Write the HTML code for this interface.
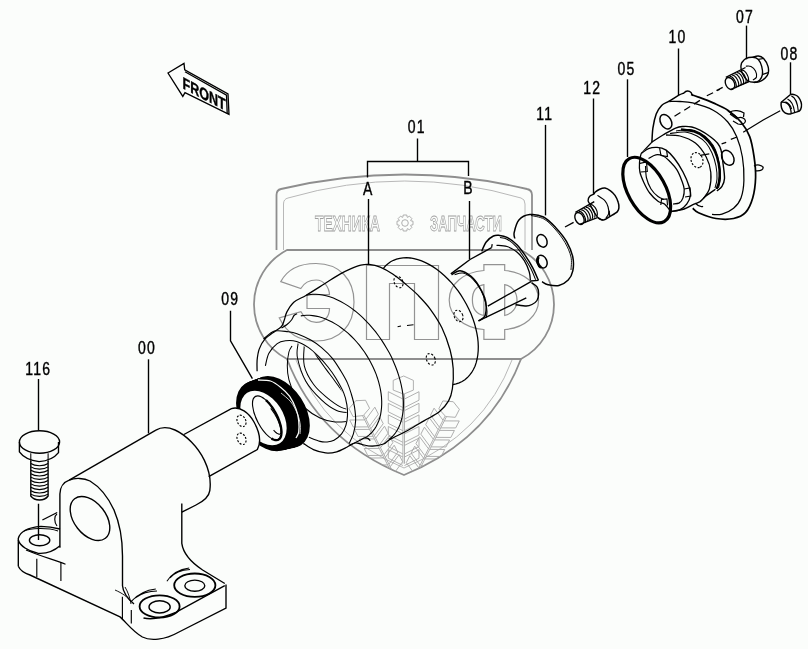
<!DOCTYPE html>
<html><head><meta charset="utf-8">
<style>
html,body{margin:0;padding:0;background:#fbfdfb;width:808px;height:649px;overflow:hidden}
svg{display:block;will-change:transform}
text{font-family:"Liberation Sans",sans-serif}
</style></head>
<body>
<svg width="808" height="649" viewBox="0 0 808 649">
<rect width="808" height="649" fill="#fbfdfb"/>
<!-- WATERMARK -->
<g id="wm" fill="none" stroke="#939393" stroke-width="1.2">
  <path d="M276.5,250 V195 Q276.5,190 281,189 Q405,160 527,189 Q532,190 532,195 V250" stroke="#8e8e8e" stroke-width="1.8"/>
  <path d="M283.5,250 V204 Q283.5,199 288,198 Q405,164 521,198 Q525,199 525,204 V250" stroke="#b8b8b8" stroke-width="1"/>
  <path d="M287,250 H521 A61.5,61.5 0 0 1 521,359 H287 A61.5,61.5 0 0 1 287,250 Z" stroke="#8e8e8e" stroke-width="1.8"/>
  <path d="M287,359 Q318,440 404,475 Q490,440 521,359" stroke="#8e8e8e" stroke-width="1.8"/>
  <path d="M296,360 Q324,434 404,468 Q484,434 512,360" stroke="#b8b8b8" stroke-width="1"/>
  <path d="M280.8,281.6 C288,268 302,263.5 316,263.5 C340,263.5 354,280 354,302 C354,325 340,341 316,341 C300,341 287,334 279.2,317.8 L300.8,311.6 C304,318 310,322.4 316.2,322.4 C325,322.4 329.5,316 329.5,308.5 L307,308.5 L307,294.7 L329.5,294.7 C329,287 324,280 316.2,280 C310,280 304,283 300.8,288.5 Z"/>
  <path d="M366.5,265.5 H438.5 V339.5 H414.5 V283.5 H389.5 V339.5 H366.5 Z"/>
  <path d="M483.9,264.6 H504.7 V270.5 C524,272 538.6,284 538.6,300 C538.6,316 524,328 504.7,329.5 V339.4 H483.9 V329.5 C464,328 449.2,316 449.2,300 C449.2,284 464,272 483.9,270.5 Z"/>
  <path d="M483.9,284.7 C476,286 472.4,292 472.4,300 C472.4,308 476,314 483.9,315.5 Z M504.7,284.7 C512,286 517,292 517,300 C517,308 512,314 504.7,315.5 Z"/>
  <g stroke-width="0.85" stroke="#a0a0a0">
    <text x="315" y="231" font-size="22.5" font-weight="bold" textLength="65" lengthAdjust="spacingAndGlyphs">ТЕХНИКА</text>
    <text x="430" y="231" font-size="22.5" font-weight="bold" textLength="72" lengthAdjust="spacingAndGlyphs">ЗАПЧАСТИ</text>
    <circle cx="405" cy="223" r="3.3"/>
    <path d="M413.0,221.2 L413.0,224.8 L410.8,225.2 L410.6,225.6 L411.9,227.4 L409.4,229.9 L407.6,228.6 L407.2,228.8 L406.8,231.0 L403.2,231.0 L402.8,228.8 L402.4,228.6 L400.6,229.9 L398.1,227.4 L399.4,225.6 L399.2,225.2 L397.0,224.8 L397.0,221.2 L399.2,220.8 L399.4,220.4 L398.1,218.6 L400.6,216.1 L402.4,217.4 L402.8,217.2 L403.2,215.0 L406.8,215.0 L407.2,217.2 L407.6,217.4 L409.4,216.1 L411.9,218.6 L410.6,220.4 L410.8,220.8 Z"/>
  </g>
</g>

<defs><clipPath id="shc"><path d="M287,359 Q318,440 404,475 Q490,440 521,359 Z"/></clipPath></defs><g clip-path="url(#shc)"><g transform="translate(403.7,391) rotate(0) scale(1.0)" fill="none" stroke="#a8a8a8" stroke-width="0.9">
<path d="M-10.5,-10.6 L0,-15 L9.7,-10.6 V-0.9 L0,3.1 L-10.5,-0.9 Z"/>
<path d="M-0.8,3 V72.7 M0.8,3 V72.7"/>
<path d="M-15.4,0.7 L-0.8,8.0 M-15.4,9.2 L-0.8,16.5 M-15.4,0.7 V9.2"/>
<path d="M15.3,0.7 L0.8,8.0 M15.3,9.2 L0.8,16.5 M15.3,0.7 V9.2"/>
<path d="M-15.4,12.3 L-0.8,19.6 M-15.4,20.8 L-0.8,28.1 M-15.4,12.3 V20.8"/>
<path d="M15.3,12.3 L0.8,19.6 M15.3,20.8 L0.8,28.1 M15.3,12.3 V20.8"/>
<path d="M-15.4,23.9 L-0.8,31.2 M-15.4,32.4 L-0.8,39.7 M-15.4,23.9 V32.4"/>
<path d="M15.3,23.9 L0.8,31.2 M15.3,32.4 L0.8,39.7 M15.3,23.9 V32.4"/>
<path d="M-15.4,35.5 L-0.8,42.8 M-15.4,44.0 L-0.8,51.3 M-15.4,35.5 V44.0"/>
<path d="M15.3,35.5 L0.8,42.8 M15.3,44.0 L0.8,51.3 M15.3,35.5 V44.0"/>
<path d="M-15.4,47.1 L-0.8,54.4 M-15.4,55.6 L-0.8,62.9 M-15.4,47.1 V55.6"/>
<path d="M15.3,47.1 L0.8,54.4 M15.3,55.6 L0.8,62.9 M15.3,47.1 V55.6"/>
<path d="M-15.4,58.7 L-0.8,66.0 M-15.4,67.2 L-0.8,74.5 M-15.4,58.7 V67.2"/>
<path d="M15.3,58.7 L0.8,66.0 M15.3,67.2 L0.8,74.5 M15.3,58.7 V67.2"/>
</g><g transform="translate(362,413) rotate(-27) scale(0.92)" fill="none" stroke="#a8a8a8" stroke-width="0.9">
<path d="M-10.5,-10.6 L0,-15 L9.7,-10.6 V-0.9 L0,3.1 L-10.5,-0.9 Z"/>
<path d="M-0.8,3 V72.7 M0.8,3 V72.7"/>
<path d="M-15.4,0.7 L-0.8,8.0 M-15.4,9.2 L-0.8,16.5 M-15.4,0.7 V9.2"/>
<path d="M15.3,0.7 L0.8,8.0 M15.3,9.2 L0.8,16.5 M15.3,0.7 V9.2"/>
<path d="M-15.4,12.3 L-0.8,19.6 M-15.4,20.8 L-0.8,28.1 M-15.4,12.3 V20.8"/>
<path d="M15.3,12.3 L0.8,19.6 M15.3,20.8 L0.8,28.1 M15.3,12.3 V20.8"/>
<path d="M-15.4,23.9 L-0.8,31.2 M-15.4,32.4 L-0.8,39.7 M-15.4,23.9 V32.4"/>
<path d="M15.3,23.9 L0.8,31.2 M15.3,32.4 L0.8,39.7 M15.3,23.9 V32.4"/>
<path d="M-15.4,35.5 L-0.8,42.8 M-15.4,44.0 L-0.8,51.3 M-15.4,35.5 V44.0"/>
<path d="M15.3,35.5 L0.8,42.8 M15.3,44.0 L0.8,51.3 M15.3,35.5 V44.0"/>
<path d="M-15.4,47.1 L-0.8,54.4 M-15.4,55.6 L-0.8,62.9 M-15.4,47.1 V55.6"/>
<path d="M15.3,47.1 L0.8,54.4 M15.3,55.6 L0.8,62.9 M15.3,47.1 V55.6"/>
<path d="M-15.4,58.7 L-0.8,66.0 M-15.4,67.2 L-0.8,74.5 M-15.4,58.7 V67.2"/>
<path d="M15.3,58.7 L0.8,66.0 M15.3,67.2 L0.8,74.5 M15.3,58.7 V67.2"/>
</g><g transform="translate(447,414) rotate(27) scale(0.92)" fill="none" stroke="#a8a8a8" stroke-width="0.9">
<path d="M-10.5,-10.6 L0,-15 L9.7,-10.6 V-0.9 L0,3.1 L-10.5,-0.9 Z"/>
<path d="M-0.8,3 V72.7 M0.8,3 V72.7"/>
<path d="M-15.4,0.7 L-0.8,8.0 M-15.4,9.2 L-0.8,16.5 M-15.4,0.7 V9.2"/>
<path d="M15.3,0.7 L0.8,8.0 M15.3,9.2 L0.8,16.5 M15.3,0.7 V9.2"/>
<path d="M-15.4,12.3 L-0.8,19.6 M-15.4,20.8 L-0.8,28.1 M-15.4,12.3 V20.8"/>
<path d="M15.3,12.3 L0.8,19.6 M15.3,20.8 L0.8,28.1 M15.3,12.3 V20.8"/>
<path d="M-15.4,23.9 L-0.8,31.2 M-15.4,32.4 L-0.8,39.7 M-15.4,23.9 V32.4"/>
<path d="M15.3,23.9 L0.8,31.2 M15.3,32.4 L0.8,39.7 M15.3,23.9 V32.4"/>
<path d="M-15.4,35.5 L-0.8,42.8 M-15.4,44.0 L-0.8,51.3 M-15.4,35.5 V44.0"/>
<path d="M15.3,35.5 L0.8,42.8 M15.3,44.0 L0.8,51.3 M15.3,35.5 V44.0"/>
<path d="M-15.4,47.1 L-0.8,54.4 M-15.4,55.6 L-0.8,62.9 M-15.4,47.1 V55.6"/>
<path d="M15.3,47.1 L0.8,54.4 M15.3,55.6 L0.8,62.9 M15.3,47.1 V55.6"/>
<path d="M-15.4,58.7 L-0.8,66.0 M-15.4,67.2 L-0.8,74.5 M-15.4,58.7 V67.2"/>
<path d="M15.3,58.7 L0.8,66.0 M15.3,67.2 L0.8,74.5 M15.3,58.7 V67.2"/>
</g></g>
<g fill="none" stroke="#000" stroke-width="1.15">
<path d="M257.1,371.3 C257.1,369.4 256.8,363.9 257.1,360.2 C257.5,356.5 257.9,352.6 259.2,349.1 C260.5,345.6 262.1,342.3 264.7,339.4 C267.3,336.4 271.9,333.5 274.7,331.4 C277.5,329.2 279.9,328.4 281.5,326.5 C283.1,324.6 283.4,322.4 284.3,320.0 C285.2,317.6 285.3,314.9 286.9,311.9 C288.5,308.9 290.6,305.0 293.8,302.2 C297.0,299.4 301.1,298.3 306.3,295.2 C311.5,292.1 319.4,287.0 325.0,283.5 C330.6,280.0 335.6,276.6 340.0,274.1 C344.4,271.6 347.6,270.1 351.1,268.6 C354.6,267.1 357.8,265.8 360.8,265.1 C363.8,264.4 365.9,264.0 369.1,264.4 C372.3,264.8 376.3,265.6 380.2,267.2 C384.1,268.8 388.5,271.3 392.7,274.1 C396.9,276.9 401.0,280.3 405.2,283.8 C409.4,287.3 413.6,290.7 417.7,294.9 C421.8,299.1 426.0,303.3 430.0,308.8 C434.0,314.3 438.5,320.8 441.9,327.7 C445.2,334.6 448.2,343.2 450.1,350.0 C452.0,356.8 452.8,362.1 453.2,368.5 C453.6,374.9 453.2,383.2 452.4,388.6 C451.6,394.0 450.8,397.0 448.6,400.9 C446.4,404.8 443.4,408.4 439.3,411.7 C435.2,415.0 429.0,417.8 423.9,420.9 C418.8,423.9 414.1,426.9 408.5,430.0 C402.9,433.1 394.2,437.2 390.0,439.5 C385.8,441.8 386.4,442.9 383.5,444.0 C380.6,445.1 375.9,446.1 372.4,446.2 C368.9,446.3 365.2,445.2 362.4,444.6 C359.6,444.1 357.9,442.7 355.7,442.9 C353.5,443.1 350.1,445.2 349.0,445.7" stroke-width="1.26" />
<path d="M297.0,313.8 C296.5,314.1 294.9,314.5 294.0,315.5 C293.1,316.5 292.7,318.5 291.5,320.0 C290.3,321.5 288.7,323.2 287.0,324.5 C285.3,325.8 282.4,327.4 281.5,328.0" stroke-width="1.15" />
<path d="M303.3,443.4 C305.0,444.4 309.7,448.0 313.4,449.6 C317.1,451.2 321.7,452.5 325.6,452.9 C329.5,453.3 333.2,452.7 336.7,451.8 C340.2,450.9 344.2,448.6 346.8,447.3 C349.4,446.0 350.3,445.1 352.3,444.0 C354.3,442.9 356.9,441.7 359.0,440.7 C361.1,439.7 363.1,438.3 364.6,437.9 C366.1,437.5 367.0,437.9 367.9,438.4 C368.8,438.9 369.8,440.3 370.2,440.7" stroke-width="1.26" />
<path d="M383.4,268.3 L385.6,265.8 L388.0,263.7 L390.6,261.8 L393.5,260.3 L396.5,259.1 L399.8,258.3 L403.1,257.8 L406.6,257.7 L410.3,258.0 L414.0,258.6 L417.8,259.6 L421.6,260.9 L425.5,262.6 L429.4,264.6 L433.2,266.9 L437.0,269.6 L440.8,272.5 L444.5,275.7 L448.1,279.2 L451.6,282.9 L454.9,286.8 L458.1,290.9 L461.0,295.2 L463.8,299.7 L466.4,304.2 L468.8,308.9 L470.9,313.6 L472.8,318.4 L474.4,323.2 L475.7,328.0 L476.8,332.8 L477.6,337.4 L478.1,342.0 L478.3,346.5 L478.2,350.8 L477.8,355.0 L477.1,359.0 L476.2,362.7 L475.0,366.3 L473.4,369.5 L471.7,372.5 L469.6,375.2 L467.4,377.6 L464.9,379.7 L462.1,381.5 L459.2,382.9 L456.1,383.9 L452.9,384.7" stroke-width="1.26" />
<path d="M306.3,295.3 L309.4,294.7 L312.5,294.3 L315.8,294.3 L319.2,294.5 L322.6,295.0 L326.1,295.8 L329.7,296.8 L333.4,298.1 L337.0,299.7 L340.7,301.5 L344.4,303.6 L348.1,305.9 L351.7,308.4 L355.4,311.2 L358.9,314.2 L362.5,317.4 L365.9,320.8 L369.3,324.3 L372.5,328.1 L375.7,331.9 L378.7,336.0 L381.6,340.1 L384.3,344.4 L386.9,348.7 L389.4,353.1 L391.7,357.6 L393.7,362.2 L395.6,366.7 L397.3,371.3 L398.8,375.9 L400.1,380.4 L401.2,384.9 L402.1,389.4 L402.8,393.7 L403.2,398.0 L403.4,402.2 L403.4,406.3 L403.2,410.2 L402.7,414.0 L402.0,417.7 L401.1,421.1 L400.0,424.4 L398.7,427.5 L397.2,430.3 L395.4,433.0 L393.5,435.4 L391.4,437.5 L389.1,439.5" stroke-width="1.09" />
<path d="M300.8,315.9 L303.6,315.5 L306.6,315.3 L309.6,315.3 L312.7,315.6 L315.9,316.1 L319.1,316.8 L322.3,317.8 L325.6,319.0 L328.8,320.4 L332.1,322.0 L335.3,323.9 L338.6,325.9 L341.8,328.2 L344.9,330.6 L348.0,333.2 L351.0,336.0 L353.9,338.9 L356.7,342.0 L359.4,345.2 L362.0,348.6 L364.5,352.0 L366.8,355.6 L369.0,359.2 L371.0,362.9 L372.9,366.7 L374.6,370.5 L376.2,374.4 L377.5,378.2 L378.7,382.1 L379.7,386.0 L380.5,389.8 L381.1,393.6 L381.5,397.3 L381.7,400.9 L381.7,404.5 L381.5,408.0 L381.1,411.4 L380.6,414.6 L379.8,417.7 L378.8,420.7 L377.6,423.5 L376.3,426.2 L374.8,428.6 L373.1,430.9 L371.2,433.0 L369.2,434.9 L367.0,436.6 L364.7,438.1" stroke-width="1.09" />
<path d="M263.5,339.0 C265.3,337.7 270.3,332.3 274.4,331.1 C278.5,329.9 284.5,331.4 288.3,331.8 C292.1,332.2 293.2,332.3 297.0,333.7 C300.8,335.1 306.7,337.7 310.8,340.0 C314.9,342.3 318.0,344.6 321.6,347.6 C325.2,350.7 329.2,354.4 332.4,358.3 C335.6,362.2 338.5,367.2 341.0,371.3 C343.5,375.4 345.8,379.3 347.5,383.1 C349.2,386.9 350.1,390.0 351.3,394.0 C352.5,398.0 353.8,402.4 354.5,406.9 C355.2,411.4 355.8,416.5 355.6,421.0 C355.4,425.5 354.5,430.1 353.4,433.9 C352.3,437.7 349.8,442.0 349.1,443.6" stroke-width="1.09" />
<path d="M265.4,365.8 C266.0,363.7 266.9,357.0 268.9,353.3 C270.9,349.6 274.4,345.7 277.2,343.6 C280.0,341.5 282.3,341.2 285.5,340.8 C288.7,340.4 292.8,340.4 296.6,341.5 C300.5,342.6 305.0,345.2 308.6,347.6 C312.2,350.1 315.1,353.0 318.3,356.2 C321.5,359.4 325.1,363.4 328.0,367.0 C330.9,370.6 333.0,373.5 335.6,377.8 C338.2,382.1 341.8,388.4 343.7,392.9 C345.6,397.4 346.3,401.0 346.9,404.8 C347.5,408.6 347.7,412.2 347.5,415.6 C347.3,419.0 346.9,422.2 345.9,425.3 C344.9,428.4 343.6,431.4 341.6,433.9 C339.6,436.4 336.5,438.9 334.0,440.3 C331.5,441.7 328.8,441.8 326.5,442.0 C324.2,442.2 322.9,442.2 320.0,441.4 C317.1,440.6 310.8,438.0 308.9,437.3" stroke-width="1.09" />
<defs><clipPath id="bore"><ellipse cx="306.5" cy="391.4" rx="31.6" ry="55.8" transform="rotate(-32.8 306.5 391.4)"/></clipPath></defs>
<g clip-path="url(#bore)">
<path d="M292.0,346.0 C291.5,347.0 289.7,348.7 288.9,352.0 C288.1,355.3 287.3,361.2 287.3,365.8 C287.3,370.4 287.6,374.8 288.9,379.7 C290.2,384.6 292.3,390.3 295.0,395.0 C297.7,399.7 300.8,404.2 305.0,408.0 C309.2,411.8 315.0,415.7 320.0,418.0 C325.0,420.3 329.7,421.5 335.0,422.0 C340.3,422.5 349.2,421.2 352.0,421.0" stroke-width="1.03" />
<path d="M300.0,338.0 C299.7,339.0 298.4,340.9 298.0,344.2 C297.6,347.5 296.2,351.8 297.5,358.0 C298.8,364.2 301.9,374.2 305.8,381.2 C309.8,388.1 316.1,394.8 321.2,399.7 C326.3,404.6 331.5,408.3 336.6,410.5 C341.7,412.7 349.4,412.6 352.0,413.0" stroke-width="1.03" />
<path d="M306.0,338.0 C305.7,339.3 304.6,341.2 304.3,345.8 C304.0,350.4 302.8,359.4 304.3,365.8 C305.8,372.2 309.9,379.2 313.5,384.3 C317.1,389.4 321.2,392.8 325.8,396.6 C330.4,400.5 336.9,405.2 341.3,407.4 C345.7,409.6 350.2,409.6 352.0,410.0" stroke-width="1.03" />
<path d="M314.0,352.0 C314.7,353.0 316.1,355.3 318.1,358.1 C320.1,360.9 323.0,365.0 325.8,368.9 C328.6,372.8 332.2,377.3 335.0,381.2 C337.8,385.1 340.6,389.2 342.8,392.0 C345.0,394.8 347.1,397.0 348.0,398.0" stroke-width="1.03" />
<path d="M317.0,350.0 C317.7,351.1 318.9,353.5 321.2,356.6 C323.4,359.8 327.4,364.5 330.5,368.9 C333.6,373.3 337.1,378.7 339.7,382.8 C342.3,386.9 344.2,390.8 345.9,393.5 C347.6,396.2 349.3,398.1 350.0,399.0" stroke-width="1.03" />
</g>
<ellipse cx="398.5" cy="282" rx="4.2" ry="6" transform="rotate(-25 398.5 282)" stroke-dasharray="2.2 1.6" stroke-width="1.09"/>
<ellipse cx="458.5" cy="315.9" rx="4.2" ry="6" transform="rotate(-25 458.5 315.9)" stroke-dasharray="2.2 1.6" stroke-width="1.09"/>
<ellipse cx="430.8" cy="359.3" rx="4.2" ry="6" transform="rotate(-25 430.8 359.3)" stroke-dasharray="2.2 1.6" stroke-width="1.09"/>
<path d="M397.6,326.8 L401,326 M407,325.5 L413.5,324.7" stroke-width="1.15"/>
</g>
<g>
<ellipse cx="266.0" cy="416.0" rx="38.5" ry="25.5" transform="rotate(57 266.0 416.0)" fill="#000"/>
<ellipse cx="267.69" cy="415.5" rx="38.62" ry="25.5" transform="rotate(57 267.69 415.5)" fill="#000"/>
<ellipse cx="269.38" cy="415.0" rx="38.75" ry="25.5" transform="rotate(57 269.38 415.0)" fill="#000"/>
<ellipse cx="271.06" cy="414.5" rx="38.88" ry="25.5" transform="rotate(57 271.06 414.5)" fill="#000"/>
<ellipse cx="272.75" cy="414.0" rx="39.0" ry="25.5" transform="rotate(57 272.75 414.0)" fill="#000"/>
<ellipse cx="274.44" cy="413.5" rx="39.12" ry="25.5" transform="rotate(57 274.44 413.5)" fill="#000"/>
<ellipse cx="276.12" cy="413.0" rx="39.25" ry="25.5" transform="rotate(57 276.12 413.0)" fill="#000"/>
<ellipse cx="277.81" cy="412.5" rx="39.38" ry="25.5" transform="rotate(57 277.81 412.5)" fill="#000"/>
<ellipse cx="279.5" cy="412.0" rx="39.5" ry="25.5" transform="rotate(57 279.5 412.0)" fill="#000"/>
<path d="M258.0,380.0 C260.1,380.2 266.7,379.8 270.5,381.0 C274.3,382.2 277.6,384.8 280.8,387.4 C284.0,389.9 287.1,392.7 289.7,396.3 C292.2,399.9 294.6,405.1 296.1,409.1 C297.6,413.2 298.3,416.8 298.7,420.6 C299.1,424.4 299.1,429.2 298.7,432.1 C298.2,435.0 296.4,437.0 296.0,438.0" fill="none" stroke="#fbfdfb" stroke-width="1.26"/>
<path d="M281.0,393.0 C282.7,394.5 288.2,398.5 291.0,402.0 C293.8,405.5 295.9,410.2 297.5,414.0 C299.1,417.8 299.9,421.7 300.3,425.0 C300.7,428.3 300.1,432.5 300.0,434.0" fill="none" stroke="#fbfdfb" stroke-width="0.80"/>
<ellipse cx="263.5" cy="418" rx="30" ry="19.6" transform="rotate(57 263.5 418)" fill="#fbfdfb"/>
<path d="M265.9,400.1 L267.0,401.1 L268.0,402.2 L269.1,403.3 L270.1,404.6 L271.1,405.9 L272.1,407.2 L273.1,408.7 L274.0,410.1 L274.9,411.7 L275.8,413.2 L276.6,414.8 L277.4,416.4 L278.1,418.0 L278.7,419.6 L279.3,421.2 L279.8,422.8 L280.3,424.3 L280.7,425.8 L281.0,427.3 L281.2,428.7 L281.4,430.1 L281.5,431.4 L281.5,432.7 L281.4,433.8 L281.3,434.9 L281.1,435.9 L280.8,436.8 L280.4,437.6 L280.0,438.3 L279.5,438.9 L278.9,439.4 L278.3,439.7 L277.6,440.0 L276.9,440.1 L276.1,440.1 L275.3,440.0 L274.4,439.8 L273.5,439.5 L272.5,439.1 L271.5,438.5" fill="none" stroke="#000" stroke-width="2.30"/>
<ellipse cx="267" cy="418" rx="24.5" ry="10" transform="rotate(62 267 418)" fill="none" stroke="#000" stroke-width="1.15"/>
<path d="M270.7,408.3 L271.4,409.2 L272.1,410.1 L272.8,411.1 L273.5,412.2 L274.2,413.2 L274.9,414.3 L275.5,415.5 L276.2,416.6 L276.8,417.8 L277.4,419.0 L277.9,420.1 L278.4,421.3 L278.9,422.4 L279.3,423.6 L279.7,424.7 L280.0,425.8 L280.3,426.8 L280.6,427.8 L280.8,428.7 L280.9,429.6 L281.0,430.4 L281.0,431.1 L281.0,431.8 L280.9,432.4 L280.8,432.9 L280.6,433.3 L280.4,433.7 L280.1,433.9 L279.8,434.1 L279.4,434.2 L279.0,434.2 L278.5,434.0 L278.0,433.8 L277.5,433.6 L276.9,433.2 L276.3,432.7 L275.6,432.2 L275.0,431.6 L274.3,430.9 L273.6,430.1" fill="none" stroke="#000" stroke-width="1.15"/>
</g>
<g fill="none" stroke="#000" stroke-width="1.38">
<path d="M481.7,251.4 C482.4,249.9 484.1,244.8 486.0,242.2 C487.9,239.6 491.1,237.1 493.4,236.0 C495.7,234.9 497.3,235.2 499.6,235.4 C501.9,235.6 504.1,235.8 507.0,237.3 C509.9,238.9 513.8,241.6 516.9,244.7 C520.0,247.8 522.8,251.9 525.5,255.8 C528.2,259.7 530.8,264.0 532.9,268.1 C535.0,272.2 537.5,278.3 538.4,280.4" stroke-width="1.49" />
<path d="M500.0,237.6 C501.2,237.9 504.3,237.8 507.0,239.2 C509.7,240.6 513.2,243.3 516.0,246.3 C518.8,249.3 521.5,253.4 524.0,257.2 C526.5,261.0 529.3,265.4 531.2,269.2 C533.1,273.0 534.9,278.0 535.6,279.8" stroke-width="1.03" />
<path d="M496.5,245.3 C498.2,245.5 503.6,245.4 507.0,246.5 C510.4,247.6 514.0,249.6 516.9,252.0 C519.8,254.4 522.2,257.4 524.3,260.7 C526.3,264.0 528.2,268.5 529.2,271.8 C530.2,275.1 530.2,279.0 530.4,280.4" stroke-width="1.26" />
<path d="M492.2,244.2 L491.6,247.7" stroke-width="1.26"/>
<path d="M531.7,282.9 C532.6,283.6 536.1,285.3 537.2,287.2 C538.4,289.1 538.6,291.8 538.6,294.0 C538.6,296.2 538.1,298.8 537.0,300.5 C535.9,302.2 533.8,303.6 532.0,304.5 C530.2,305.4 529.0,306.0 526.3,306.0 C523.5,306.0 517.3,304.9 515.5,304.7" stroke-width="1.38" />
<path d="M530.4,281 L538.4,280.4" stroke-width="1.38"/>
<path d="M450.8,273.9 L470,259.5 L491.6,247.7" stroke-width="1.38"/>
<path d="M451.6,274.7 C453.0,274.1 456.8,270.6 460.0,270.8 C463.2,271.1 467.7,273.8 470.8,276.2 C473.9,278.6 476.2,281.8 478.5,285.4 C480.8,289.0 483.4,294.2 484.7,297.8 C486.0,301.4 486.2,303.9 486.2,307.0 C486.2,310.1 486.0,314.0 484.7,316.3 C483.4,318.6 479.5,320.1 478.5,320.9" stroke-width="1.49" />
<path d="M454.6,274.7 C456.0,274.4 460.0,272.3 463.1,273.1 C466.2,273.9 470.2,276.5 473.1,279.3 C476.1,282.1 478.7,286.1 480.8,290.0 C482.9,293.9 484.5,298.8 485.5,302.4 C486.5,306.0 486.9,309.0 487.0,311.6 C487.1,314.2 486.3,316.8 486.2,317.8" stroke-width="1.03" />
<path d="M478.5,320.9 L526.3,297.8 M487.8,306.2 L530.9,281.6" stroke-width="1.38"/>
</g>
<g fill="none" stroke="#000" stroke-width="1.38">
<path d="M514.8,238.5 C514.7,237.5 513.5,235.5 514.2,232.4 C514.9,229.3 516.3,223.0 518.9,220.0 C521.5,217.0 525.6,215.1 529.7,214.6 C533.8,214.1 539.1,214.8 543.5,217.0 C547.9,219.2 551.9,223.6 555.8,227.7 C559.6,231.8 563.8,236.7 566.6,241.6 C569.4,246.5 571.8,252.1 572.8,257.0 C573.8,261.9 573.6,267.0 572.8,270.9 C572.0,274.8 570.5,277.7 568.2,280.1 C565.9,282.5 562.2,284.7 558.9,285.5 C555.5,286.3 550.9,285.3 548.1,284.7 C545.3,284.1 543.0,282.2 542.0,281.7" stroke-width="1.49" />
<path d="M531.0,215.5 C533.2,216.1 540.0,216.8 544.0,219.0 C548.0,221.2 551.5,225.1 555.0,229.0 C558.5,232.9 562.3,237.8 565.0,242.5 C567.7,247.2 570.0,252.4 571.0,257.0 C572.0,261.6 571.0,267.8 571.0,270.0" stroke-width="0.92" />
<ellipse cx="542" cy="240.8" rx="4.8" ry="6.6" transform="rotate(-25 542 240.8)" stroke-width="1.49"/>
<ellipse cx="542" cy="261.6" rx="4.8" ry="6.6" transform="rotate(-25 542 261.6)" stroke-width="1.49"/>
<path d="M538.5,257 C536.5,261 538,266 541,267.5" stroke-width="2.53"/>
<path d="M565,227 L573.6,222.3" stroke-width="1.38"/>
</g>
<g fill="none" stroke="#000" stroke-width="1.38">
<path d="M594.3,193.9 C594.4,193.6 594.1,193.1 595.0,192.3 C595.9,191.5 598.0,189.9 599.7,189.2 C601.4,188.5 603.2,187.8 605.0,188.1 C606.8,188.4 608.8,189.6 610.5,190.8 C612.2,192.0 613.7,193.5 615.0,195.4 C616.3,197.3 617.6,200.2 618.2,202.3 C618.9,204.4 619.0,206.1 618.9,207.7 C618.8,209.2 618.8,210.2 617.4,211.6 C616.0,213.0 612.8,214.8 610.5,216.2 C608.2,217.6 605.6,219.8 603.5,220.1 C601.4,220.3 599.0,218.1 598.1,217.7" stroke-width="1.49" />
<path d="M594.3,193.9 C593.5,194.3 590.7,195.0 589.7,196.2 C588.7,197.3 588.0,199.3 588.1,200.8 C588.2,202.3 589.4,203.1 590.4,205.0 C591.4,206.9 592.6,209.8 594.0,212.0 C595.4,214.2 597.4,217.2 598.9,218.5 C600.4,219.8 602.3,219.8 603.0,220.0" stroke-width="1.38" />
<path d="M597.4,195.4 C598.7,196.3 603.2,198.9 605.0,200.8 C606.8,202.7 607.5,204.8 608.1,207.0 C608.7,209.2 609.0,212.1 608.6,213.9 C608.2,215.7 606.4,217.3 606.0,218.0" stroke-width="1.15" />
<path d="M609.3,210.8 L609.7,216.2" stroke-width="1.15"/>
<path d="M575.4,212.4 L594.3,201.6 M579.6,224.3 L597.4,217.7" stroke-width="1.38"/>
<ellipse cx="579.5" cy="218.5" rx="6.3" ry="4.2" transform="rotate(63 579.5 218.5)" stroke-width="1.38"/>
<path d="M579.0,211.5 L579.5,211.4 L580.2,211.5 L580.9,211.8 L581.6,212.3 L582.3,213.0 L583.1,213.8 L583.7,214.8 L584.3,215.9 L584.8,217.0 L585.2,218.1 L585.5,219.2 L585.6,220.2 L585.6,221.1 L585.4,221.9 L585.1,222.4 L584.7,222.8" stroke-width="1.15"/>
<path d="M581.3,210.2 L581.9,210.1 L582.5,210.1 L583.2,210.4 L583.9,211.0 L584.7,211.6 L585.4,212.5 L586.1,213.5 L586.7,214.6 L587.2,215.7 L587.6,216.8 L587.9,217.9 L588.0,218.9 L588.0,219.8 L587.8,220.5 L587.5,221.1 L587.0,221.4" stroke-width="1.15"/>
<path d="M583.7,208.9 L584.2,208.7 L584.8,208.8 L585.5,209.1 L586.3,209.6 L587.0,210.3 L587.7,211.2 L588.4,212.1 L589.0,213.2 L589.5,214.3 L589.9,215.5 L590.2,216.5 L590.3,217.6 L590.3,218.4 L590.1,219.2 L589.8,219.7 L589.4,220.1" stroke-width="1.15"/>
<path d="M586.0,207.5 L586.6,207.4 L587.2,207.5 L587.9,207.8 L588.6,208.3 L589.4,209.0 L590.1,209.8 L590.8,210.8 L591.4,211.9 L591.9,213.0 L592.3,214.1 L592.5,215.2 L592.7,216.2 L592.6,217.1 L592.5,217.8 L592.2,218.4 L591.7,218.8" stroke-width="1.15"/>
<path d="M588.4,206.2 L588.9,206.1 L589.5,206.1 L590.2,206.4 L591.0,206.9 L591.7,207.6 L592.4,208.5 L593.1,209.5 L593.7,210.5 L594.2,211.7 L594.6,212.8 L594.9,213.9 L595.0,214.9 L595.0,215.8 L594.8,216.5 L594.5,217.1 L594.1,217.4" stroke-width="1.15"/>
<path d="M590.7,204.9 L591.2,204.7 L591.9,204.8 L592.6,205.1 L593.3,205.6 L594.0,206.3 L594.8,207.1 L595.5,208.1 L596.1,209.2 L596.6,210.3 L597.0,211.4 L597.2,212.5 L597.3,213.5 L597.3,214.4 L597.2,215.2 L596.9,215.7 L596.4,216.1" stroke-width="1.15"/>
</g>
<g fill="none" stroke="#000" stroke-width="1.38">
<path d="M651.9,142.1 C652.1,139.8 652.2,132.8 652.9,128.1 C653.6,123.4 654.8,117.9 656.2,114.1 C657.7,110.3 659.5,107.7 661.6,105.5 C663.8,103.3 666.2,102.9 669.1,101.2 C672.0,99.5 676.3,96.6 678.8,95.2 C681.3,93.8 683.1,93.4 684.0,93.0" stroke-width="1.49" />
<path d="M684,93 C686,90.5 689,90.5 691,92.5 L692.8,95.8" stroke-width="1.38"/>
<path d="M691.0,94.5 C692.2,94.9 694.8,95.7 698.5,97.1 C702.2,98.5 708.3,100.7 713.2,102.9 C718.1,105.1 723.2,107.0 727.8,110.2 C732.4,113.4 737.4,117.6 741.0,122.0 C744.6,126.4 747.5,130.8 749.7,136.6 C751.9,142.4 753.1,150.2 754.1,157.0 C755.1,163.8 755.8,170.7 755.6,177.5 C755.4,184.3 754.4,192.1 752.7,198.0 C751.0,203.9 748.6,209.3 745.4,212.7 C742.2,216.1 738.5,217.5 733.6,218.5 C728.7,219.5 721.9,219.5 716.0,218.5 C710.1,217.5 702.4,214.4 698.5,212.7 C694.6,211.0 693.7,209.0 692.7,208.3" stroke-width="1.72" />
<path d="M669.3,101.5 C671.1,101.5 676.1,101.3 680.0,101.5 C683.9,101.7 687.2,101.5 692.7,102.9 C698.2,104.4 707.4,107.0 713.2,110.2 C719.1,113.4 723.9,117.6 727.8,122.0 C731.7,126.4 734.2,130.8 736.6,136.6 C739.0,142.4 741.2,149.7 742.4,157.0 C743.6,164.3 744.1,173.7 743.9,180.5 C743.7,187.3 742.7,193.4 741.0,198.0 C739.3,202.6 736.8,205.6 733.6,208.3 C730.4,211.0 725.6,213.1 722.0,214.1 C718.4,215.1 713.7,214.4 712.0,214.5" stroke-width="1.26" />
<path d="M728,111 L738,118 M730,114 L737,119 M738,118 C741,116.5 745,118 745.5,121 C745,124 742,125 738,124 L733,121" stroke-width="1.26"/>
<path d="M730,112 C734,109.5 740,110.5 744,113 L743.5,117 M754,166.2 C757,164 762,165 763.2,167.5 C763,170 760,171 756,170.8 M695.4,203.2 C698,206 701,207 703.1,206.3" stroke-width="1.26"/>
<ellipse cx="665.9" cy="121.7" rx="7.8" ry="5.3" transform="rotate(60 665.9 121.7)" stroke-width="1.49"/>
<ellipse cx="727.8" cy="157.8" rx="8" ry="5.6" transform="rotate(60 727.8 157.8)" stroke-width="1.49"/>
<path d="M651.9,142.1 C653.8,140.9 659.0,137.3 663.0,135.0 C667.0,132.7 672.2,129.5 675.6,128.1 C679.0,126.7 680.4,126.7 683.1,126.5 C685.8,126.3 688.9,126.4 691.8,127.0 C694.7,127.6 697.5,128.9 700.4,130.3 C703.3,131.8 706.1,133.5 709.0,135.7 C711.9,137.8 715.6,140.8 717.6,143.2 C719.6,145.6 720.1,146.5 721.0,150.0 C721.9,153.5 722.5,159.2 723.1,164.0 C723.7,168.8 724.7,174.9 724.5,178.6 C724.3,182.3 723.2,184.2 722.0,186.3 C720.8,188.4 717.8,190.1 717.0,190.9" stroke-width="1.38" />
<path d="M676.0,131.0 C678.3,130.8 685.6,129.2 689.6,129.5 C693.6,129.8 696.8,131.2 700.0,133.0 C703.2,134.8 706.4,137.2 709.0,140.0 C711.6,142.8 713.8,146.0 715.5,150.0 C717.2,154.0 718.7,159.3 719.5,164.0 C720.3,168.7 720.7,174.0 720.5,178.0 C720.3,182.0 718.8,186.2 718.5,187.8" stroke-width="1.03" />
<path d="M681.0,129.5 C683.2,129.8 690.2,130.2 694.0,131.5 C697.8,132.8 701.0,134.6 704.0,137.0 C707.0,139.4 709.8,142.7 712.0,146.0 C714.2,149.3 715.8,153.0 717.0,157.0 C718.2,161.0 719.2,165.8 719.5,170.0 C719.8,174.2 719.5,178.8 719.0,182.0 C718.5,185.2 716.9,187.8 716.5,189.0" stroke-width="2.30" />
<path d="M670.0,133.5 C672.5,133.2 680.5,131.6 685.0,132.0 C689.5,132.4 693.5,134.2 697.0,136.0 C700.5,137.8 703.5,140.2 706.0,143.0 C708.5,145.8 710.3,149.2 712.0,153.0 C713.7,156.8 715.2,161.7 716.0,166.0 C716.8,170.3 717.2,175.3 717.0,179.0 C716.8,182.7 715.3,186.5 715.0,188.0" stroke-width="1.03" />
<path d="M641.1,153.6 L651.9,142.1" stroke-width="1.38"/>
<path d="M666.0,135.0 C668.3,135.2 675.1,134.7 680.0,136.0 C684.9,137.3 691.0,139.6 695.4,143.1 C699.8,146.6 703.6,152.1 706.2,157.0 C708.8,161.9 710.3,167.0 710.8,172.4 C711.3,177.8 710.6,184.9 709.3,189.3 C708.0,193.7 704.1,197.1 703.1,198.6" stroke-width="1.26" />
<path d="M641.1,153.6 C642.8,150.4 645.8,149.6 648.5,148.6 C651.2,147.6 654.2,147.2 657.1,147.4 C660.0,147.6 662.8,148.1 665.7,149.9 C668.6,151.8 671.5,154.8 674.4,158.5 C677.3,162.2 680.5,167.3 683.0,172.0 C685.5,176.7 688.0,182.9 689.2,186.8 C690.4,190.7 690.8,192.6 690.4,195.5 C690.0,198.4 688.6,201.7 686.7,204.1 C684.9,206.5 682.0,209.0 679.3,210.2 C676.6,211.4 673.9,211.9 670.7,211.5 C667.5,211.1 663.8,210.2 660.0,208.0 C656.2,205.8 651.2,202.0 648.0,198.0 C644.8,194.0 642.6,189.0 641.0,184.0 C639.4,179.0 638.5,173.1 638.5,168.0 C638.5,162.9 639.4,156.8 641.1,153.6 Z" fill="#fbfdfb" stroke="none"/>
<path d="M641.1,153.6 C642.3,152.8 645.8,149.6 648.5,148.6 C651.2,147.6 654.2,147.2 657.1,147.4 C660.0,147.6 662.8,148.1 665.7,149.9 C668.6,151.8 671.5,154.8 674.4,158.5 C677.3,162.2 680.5,167.3 683.0,172.0 C685.5,176.7 688.0,182.9 689.2,186.8 C690.4,190.7 690.8,192.6 690.4,195.5 C690.0,198.4 688.6,201.7 686.7,204.1 C684.9,206.5 682.0,209.0 679.3,210.2 C676.6,211.4 672.1,211.3 670.7,211.5" stroke-width="1.38" />
<path d="M648.5,158.5 C649.7,157.9 653.4,155.2 655.9,154.8 C658.4,154.4 661.0,155.0 663.3,156.0 C665.5,157.0 667.1,158.7 669.4,161.0 C671.6,163.3 674.7,166.3 676.8,169.6 C678.9,172.9 680.6,177.4 681.8,180.7 C683.0,184.0 684.0,186.4 684.2,189.3 C684.4,192.2 683.8,195.6 683.0,197.9 C682.2,200.2 680.9,201.9 679.3,202.9 C677.6,203.9 674.1,203.9 673.1,204.1" stroke-width="1.26" />
<path d="M641.1,153.6 C640.8,155.0 639.7,159.1 639.5,162.2 C639.3,165.3 639.2,168.7 639.9,172.0 C640.6,175.3 642.0,178.4 643.6,181.9 C645.2,185.4 647.2,189.7 649.7,193.0 C652.2,196.3 655.8,199.8 658.3,201.6 C660.8,203.4 662.4,202.3 664.5,204.0 C666.6,205.7 669.7,210.2 670.7,211.5" stroke-width="1.26" />
<path d="M645.5,166.0 C645.7,168.0 645.6,174.2 646.5,178.0 C647.4,181.8 649.1,185.9 651.0,189.0 C652.9,192.1 655.8,194.8 658.0,196.5 C660.2,198.2 663.0,199.0 664.0,199.5" stroke-width="1.15" />
<path d="M670.7,211.5 C673.0,211.1 680.3,210.2 684.2,209.0 C688.1,207.8 691.5,205.3 694.1,204.1 C696.7,202.9 698.0,202.9 700.0,201.6 C702.0,200.2 703.4,198.1 706.0,196.0 C708.6,193.9 713.8,190.4 715.4,189.3" stroke-width="1.38" />
<path d="M659.6,148.2 L661,155.5 L667.5,156.5 L666.5,149.8 M684.2,189 L690,188 L690.8,196 L685,197 M660.8,205 L661.5,199.5 L667,199 L667.5,205.5 M639.9,163.4 L646.5,162 L647.3,171.5 L640.5,172" stroke-width="1.15"/>
<ellipse cx="697" cy="160.1" rx="7.7" ry="5.8" transform="rotate(70 697 160.1)" stroke-dasharray="2 1.6" stroke-width="1.15"/>
<path d="M700,155.4 L709.3,153.9" stroke-width="1.15"/>
<path d="M674.5,116.3 L700.4,100.1 M706.8,95.8 L720,89.3 M722.7,87.4 L715,91.2" stroke-dasharray="7 4.5" stroke-width="1.26"/>
<path d="M721.6,143.9 L726.2,142.3 M730.8,139.3 L737,137 M743.2,132.3 L763.2,120 L780.2,110.8" stroke-width="1.26"/>
</g>
<ellipse cx="646.7" cy="190.1" rx="36" ry="18.7" transform="rotate(61 646.7 190.1)" fill="none" stroke="#000" stroke-width="3.22"/>
<g fill="none" stroke="#000" stroke-width="1.38">
<path d="M752.7,57.3 C753.6,57.1 756.4,55.8 758.3,56.0 C760.1,56.2 762.2,57.0 763.8,58.7 C765.4,60.4 767.3,64.0 768.0,66.4 C768.7,68.8 768.7,71.3 768.2,73.3 C767.7,75.2 766.6,76.7 765.2,78.1 C763.8,79.5 761.5,80.9 759.6,81.6 C757.8,82.3 755.0,82.3 754.1,82.5" stroke-width="1.44" />
<path d="M741.6,62.9 C742.3,62.2 743.9,59.6 745.8,58.7 C747.6,57.8 750.6,57.2 752.7,57.3 C754.8,57.4 756.8,57.9 758.3,59.4 C759.8,60.9 761.0,63.9 761.7,66.4 C762.4,69.0 762.8,72.4 762.4,74.7 C762.0,77.0 761.0,78.9 759.6,80.2 C758.2,81.5 756.2,82.3 754.1,82.3 C752.0,82.3 749.2,81.7 747.2,80.2 C745.2,78.7 743.3,75.5 742.3,73.3 C741.2,71.1 741.0,68.7 740.9,67.0 C740.8,65.3 741.5,63.6 741.6,62.9" stroke-width="1.38" />
<path d="M745.8,66.2 C746.7,66.2 749.4,65.7 751.0,66.5 C752.6,67.3 754.6,69.2 755.5,71.0 C756.4,72.8 756.9,75.5 756.5,77.0 C756.1,78.5 753.6,79.5 753.0,80.0" stroke-width="1.09" />
<path d="M758.3,59.4 L763.5,58.5 M762,74.7 L768,72.6" stroke-width="1.15"/>
<path d="M725.8,77.4 L745.5,67.5 M730.4,89.7 L749,81.5" stroke-width="1.38"/>
<ellipse cx="730" cy="83.5" rx="6.4" ry="4.3" transform="rotate(63 730 83.5)" stroke-width="1.38"/>
<path d="M729.6,76.6 L730.1,76.4 L730.7,76.5 L731.4,76.8 L732.2,77.3 L732.9,78.0 L733.6,78.9 L734.3,79.9 L735.0,81.0 L735.5,82.1 L735.9,83.3 L736.1,84.4 L736.3,85.4 L736.3,86.3 L736.1,87.0 L735.8,87.6 L735.4,88.0" stroke-width="1.15"/>
<path d="M732.0,75.3 L732.5,75.2 L733.2,75.3 L733.9,75.6 L734.6,76.1 L735.4,76.8 L736.1,77.7 L736.8,78.7 L737.4,79.7 L737.9,80.9 L738.3,82.0 L738.6,83.1 L738.7,84.2 L738.7,85.1 L738.6,85.8 L738.2,86.4 L737.8,86.7" stroke-width="1.15"/>
<path d="M734.5,74.1 L735.0,73.9 L735.6,74.0 L736.3,74.3 L737.1,74.8 L737.8,75.6 L738.6,76.4 L739.2,77.4 L739.9,78.5 L740.4,79.6 L740.8,80.8 L741.1,81.9 L741.2,82.9 L741.2,83.8 L741.0,84.6 L740.7,85.1 L740.3,85.5" stroke-width="1.15"/>
<path d="M736.9,72.8 L737.5,72.7 L738.1,72.8 L738.8,73.1 L739.5,73.6 L740.3,74.3 L741.0,75.2 L741.7,76.2 L742.3,77.3 L742.8,78.4 L743.2,79.5 L743.5,80.7 L743.6,81.7 L743.6,82.6 L743.5,83.3 L743.2,83.9 L742.7,84.2" stroke-width="1.15"/>
<path d="M739.4,71.6 L739.9,71.5 L740.5,71.5 L741.2,71.9 L742.0,72.4 L742.7,73.1 L743.5,73.9 L744.2,74.9 L744.8,76.0 L745.3,77.2 L745.7,78.3 L746.0,79.4 L746.1,80.4 L746.1,81.3 L745.9,82.1 L745.6,82.6 L745.2,83.0" stroke-width="1.15"/>
<path d="M741.8,70.4 L742.4,70.2 L743.0,70.3 L743.7,70.6 L744.4,71.1 L745.2,71.8 L745.9,72.7 L746.6,73.7 L747.2,74.8 L747.7,75.9 L748.2,77.1 L748.4,78.2 L748.6,79.2 L748.5,80.1 L748.4,80.8 L748.1,81.4 L747.6,81.8" stroke-width="1.15"/>
</g>
<g fill="none" stroke="#000" stroke-width="1.38">
<path d="M790.5,94.5 L781.2,102.3 C780.5,106 782,110.5 784,112 C785.5,113.8 789,114.6 791.4,113.6 L799.3,111.1 C801.5,109.5 802,105 801.1,102.3 C800,99 797.5,95.5 795.1,94.9 C793.5,94.3 792,94.1 790.5,94.5" stroke-width="1.49"/>
<path d="M781.2,102.3 C783,101.8 786.5,102.5 788.4,104.6 C790.2,106.7 791,110 791.2,113.6" stroke-width="1.26"/>
<path d="M785.4,101.9 C788,103 790.8,106 791.6,109 M787.5,99 C791,100.5 793.5,104.5 794.6,112 M791.4,95.9 C795,97.5 797.5,102 798.3,111.1" stroke-width="1.15"/>
</g>
<!-- BOLT 116 -->
<g fill="none" stroke="#000" stroke-width="1.38">
  <ellipse cx="39.5" cy="442" rx="20.1" ry="11.2"/>
  <path d="M19.4,442 V451.9 C23,457 30,460.5 39.1,461.6 C48,461 55,457 58.5,452.6 V442"/>
  <path d="M30.8,453.3 V461.6 M48.1,453.3 V461.6" stroke-width="1.03"/>
  <path d="M30.8,461 V496 C33,499 36,500 39.5,500 C43,500 46,499 48.1,496 V461"/>
  <path d="M30.8,463.5 C35,466.5 44,466.5 48.1,463.5 M30.8,466.9 C35,469.9 44,469.9 48.1,466.9 M30.8,470.3 C35,473.3 44,473.3 48.1,470.3 M30.8,473.7 C35,476.7 44,476.7 48.1,473.7 M30.8,477.1 C35,480.1 44,480.1 48.1,477.1 M30.8,480.5 C35,483.5 44,483.5 48.1,480.5 M30.8,483.9 C35,486.9 44,486.9 48.1,483.9 M30.8,487.3 C35,490.3 44,490.3 48.1,487.3 M30.8,490.7 C35,493.7 44,493.7 48.1,490.7 M30.8,494.1 C35,497.1 44,497.1 48.1,494.1 " stroke-width="1.15"/>
</g>
<!-- BRACKET 00 -->
<g fill="none" stroke="#000" stroke-width="1.38">
  <path d="M181,436 L231.4,408.6 C240,406 249,413 254,422 C259,431 262,441 257.3,449.6 L208.7,476.6 L196,440 Z" fill="#fbfdfb" stroke="none"/>
  <path d="M69.2,480.2 L155.9,430.2"/>
  <path d="M155.9,430.2 C161,427 168,427 175,430 C186,435 198,447 204.4,460.4 C209,470 211,482 209.8,490.6 C209,497 204,501 196,505 L181.8,512.2"/>
  <path d="M181.8,503.5 V543.4 C183,552 189,561 202.6,570 L224.8,583.5"/>
  <path d="M183.9,434.5 L231.4,408.6 C240,406 249,413 254,422 C259,431 262,441 257.3,449.6 L208.7,476.6"/>
  <ellipse cx="241.5" cy="420.9" rx="4.2" ry="6" transform="rotate(-25 241.5 420.9)" stroke-dasharray="2 1.5" stroke-width="1.15"/>
  <ellipse cx="241.5" cy="438.8" rx="4.2" ry="6" transform="rotate(-25 241.5 438.8)" stroke-dasharray="2 1.5" stroke-width="1.15"/>
  <path d="M59.9,547.7 V494 C60,487 64,482 69.2,480.2 C75,477.5 84,478 90,481 C100,487 108,497 114,510 C120,524 122.5,540 122.5,556 V585.7 C123,592 127,598 134,604"/>
  <ellipse cx="90" cy="518.5" rx="25" ry="15.8" transform="rotate(52 90 518.5)"/>
  <path d="M42.4,520 L57.2,512.5"/>
  <path d="M57,514 C54,516 54,522 57,526" stroke-width="1.15"/>
  <path d="M18.3,566.2 V538.4 C20,532 27,527.5 41,526.4 C50,526.5 56,528 60,529"/>
  <path d="M24,531 C30,528 48,527.5 58,531" stroke-width="1.03"/>
  <path d="M18.3,540 C20,546 28,551 37.7,553.2 C46,554 54,551 60,545.8"/>
  <path d="M26,550 C40,556 55,560 65.5,564.3" stroke-width="1.15"/>
  <ellipse cx="39.6" cy="540.3" rx="10.2" ry="5.5"/>
  <path d="M18.3,566.2 C20,570 24,573 30,575 L120,616.9 C126,622 132,631 142.4,637 C150,641 165,640 178,632.5 L226,608 V584.5"/>
  <path d="M224.8,585.7 L175.8,612.4 C165,617 152,620 143.5,618"/>
  <path d="M36.8,558.8 V577 M60.9,562.5 V581 M122.4,596.8 V619 M131.3,610 V623.6" stroke-width="1.15"/>
  <ellipse cx="194.8" cy="585.2" rx="20.6" ry="11.7" stroke-width="1.84"/>
  <ellipse cx="194.8" cy="585.7" rx="10" ry="5.6"/>
  <ellipse cx="159.6" cy="606.4" rx="20" ry="11.1" stroke-width="1.84"/>
  <ellipse cx="159.6" cy="606.9" rx="10.6" ry="6.1"/>
  <path d="M166.9,581.2 C172,573 180,569 189.2,567.9 M170,578 C175,572 182,570 190,569.5" stroke-width="1.03"/>
  <path d="M131.3,601.3 C138,594 146,590 155.8,589 M135,598 C142,593 150,591 157,591" stroke-width="1.03"/>
  <path d="M115,590 C122,593 128,597 131,602 M125,587 C128,592 130,598 131,604" stroke-width="0.92"/>
</g>

<!-- LABELS -->
<g fill="#000" stroke="#000" stroke-width="0.40" font-size="17.5">
  <text transform="translate(147.1,353.8) scale(0.8,1)" text-anchor="middle" letter-spacing="1.6">00</text>
  <text transform="translate(38.2,374.6) scale(0.8,1)" text-anchor="middle" letter-spacing="1.6">116</text>
  <text transform="translate(230.3,305.4) scale(0.8,1)" text-anchor="middle" letter-spacing="1.6">09</text>
  <text transform="translate(416.7,133.4) scale(0.8,1)" text-anchor="middle" letter-spacing="1.6">01</text>
  <text transform="translate(544.7,120.3) scale(0.8,1)" text-anchor="middle" letter-spacing="1.6">11</text>
  <text transform="translate(592.3,94) scale(0.8,1)" text-anchor="middle" letter-spacing="1.6">12</text>
  <text transform="translate(626.5,74.8) scale(0.8,1)" text-anchor="middle" letter-spacing="1.6">05</text>
  <text transform="translate(677.6,43) scale(0.8,1)" text-anchor="middle" letter-spacing="1.6">10</text>
  <text transform="translate(745,22.9) scale(0.8,1)" text-anchor="middle" letter-spacing="1.6">07</text>
  <text transform="translate(789.6,59.5) scale(0.8,1)" text-anchor="middle" letter-spacing="1.6">08</text>
  <text transform="translate(368.2,194.9) scale(0.8,1)" text-anchor="middle" letter-spacing="1.6">A</text>
  <text transform="translate(468.5,194) scale(0.8,1)" text-anchor="middle" letter-spacing="1.6">B</text>
</g>
<g fill="none" stroke="#000" stroke-width="1.38">
  <path d="M417.5,138.6 V161.5 M367.5,177.6 V161.5 H468.5 V175.9"/>
  <path d="M38.5,379 V430.4 M38.5,503.8 V540"/>
  <path d="M148.5,359.3 V433.4"/>
  <path d="M545.5,124.9 V215.4"/>
  <path d="M593.5,98.5 V193.9"/>
  <path d="M627.5,79.3 V157"/>
  <path d="M230.5,310.8 V340.9 L252.4,378.6"/>
  <path d="M678.5,48.5 V95.2"/>
  <path d="M746.5,25.6 V59.3"/>
  <path d="M790.5,62.3 V94.1"/>
  <path d="M368.5,199 V264.4"/>
  <path d="M469.5,201 V259"/>
</g>


<!-- FRONT ARROW -->
<g fill="none" stroke="#000" stroke-width="1.32">
  <path d="M168,73 L184,63.4 L184.7,69.8 L228,94 L229,114.4 L185,92.7 L182.8,96.4 Z"/>
  <path d="M185,71.8 L226.5,95.2 L227.2,113.2"/>
  <text transform="translate(182.5,88.3) skewY(27.5) scale(0.76,1)" font-size="16.5" font-weight="bold" fill="#000" stroke="#000" stroke-width="0.40">FRONT</text>
</g>

</svg>
</body></html>
